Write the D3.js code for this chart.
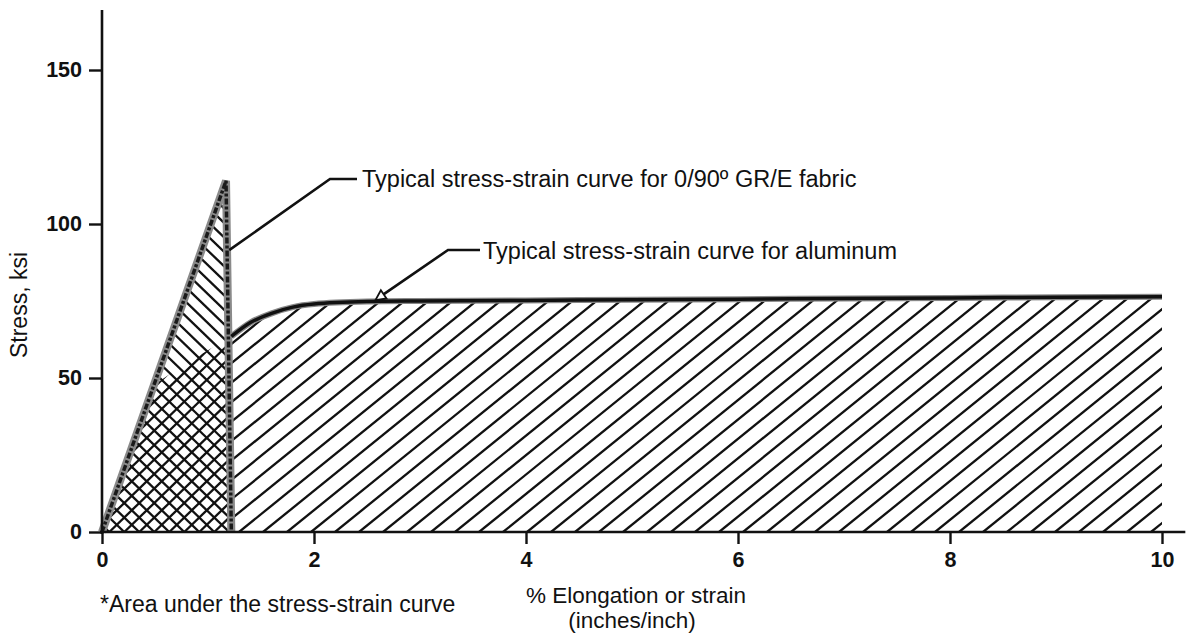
<!DOCTYPE html>
<html><head><meta charset="utf-8">
<script src="https://cdn.jsdelivr.net/npm/d3@7"></script>
<style>
body{margin:0;background:#fff}
svg{display:block}
text{font-family:"Liberation Sans",Arial,Helvetica,sans-serif;fill:#111}
</style>
</head><body>
<svg id="c" width="1188" height="637"></svg>
<script>
// ---- data ----
const yTicks = [0, 50, 100, 150];
const xTicks = [0, 2, 4, 6, 8, 10];
const fabricStrain = [0, 1.17, 1.22];
const fabricStress = [0, 114, 0];
const aluStrain = [0, 0.5, 0.8, 1.0, 1.22, 1.4, 1.6, 1.8, 2.0, 2.5, 3, 4, 5, 6, 7, 8, 9, 10];
const aluStress = [0, 48, 55, 59, 63.5, 68, 71, 73, 74, 74.8, 75, 75.2, 75.4, 75.6, 75.8, 76, 76.2, 76.4];
const fabricLabel = "Typical stress-strain curve for 0/90º GR/E fabric";
const aluLabel = "Typical stress-strain curve for aluminum";
const xTitle1 = "% Elongation or strain";
const xTitle2 = "(inches/inch)";
const yTitle = "Stress, ksi";
const footnote = "*Area under the stress-strain curve";

// ---- scales ----
const svg = d3.select("#c");
const x = d3.scaleLinear().domain([0, 10]).range([102, 1162]);
const y = d3.scaleLinear().domain([0, 150]).range([532, 70]);

const fabric = fabricStrain.map((s, i) => [s, fabricStress[i]]);
const alu = aluStrain.map((s, i) => [s, aluStress[i]]);
const dropX = fabricStrain[fabricStrain.length - 1];

const defs = svg.append("defs");
const lineGen = d3.line().x(d => x(d[0])).y(d => y(d[1]));
const areaGen = d3.area().x(d => x(d[0])).y0(y(0)).y1(d => y(d[1]));

defs.append("clipPath").attr("id", "clipFab").append("path")
  .attr("d", lineGen(fabric) + "Z");
defs.append("clipPath").attr("id", "clipAlu").append("path")
  .attr("d", areaGen(alu));
defs.append("clipPath").attr("id", "clipRight").append("rect")
  .attr("x", x(dropX)).attr("y", 0).attr("width", x(10) - x(dropX)).attr("height", y(0));

function hatch(g, dir, angleDeg, spacing, x0, x1, yTop, yBot) {
  const H = yBot - yTop;
  const dx = H / Math.tan(angleDeg * Math.PI / 180);
  const lines = [];
  for (let k = x0 - dx - spacing; k <= x1 + dx + spacing; k += spacing) {
    if (dir === "/") lines.push([k, yBot, k + dx, yTop]);
    else lines.push([k, yBot, k - dx, yTop]);
  }
  g.selectAll("line.h").data(lines).join("line").attr("class", "h")
    .attr("x1", d => d[0]).attr("y1", d => d[1]).attr("x2", d => d[2]).attr("y2", d => d[3])
    .attr("stroke", "#111").attr("stroke-width", 2.3);
}

// aluminum-only region: "/" hatch
const gA = svg.append("g").attr("clip-path", "url(#clipRight)")
  .append("g").attr("clip-path", "url(#clipAlu)");
hatch(gA, "/", 39, 24, x(dropX), x(10), y(80), y(0));

// fabric region: "\" hatch
const gF = svg.append("g").attr("clip-path", "url(#clipFab)");
hatch(gF, "\\", 44, 15, x(0), x(dropX), y(120), y(0));

// overlap region: extra "/" hatch (crosshatch)
const gO = svg.append("g").attr("clip-path", "url(#clipFab)")
  .append("g").attr("clip-path", "url(#clipAlu)");
hatch(gO, "/", 44, 15, x(0), x(dropX), y(120), y(0));

// fabric outline (speckled grey band + dark line)
svg.append("path").attr("d", lineGen(fabric))
  .attr("fill", "none").attr("stroke", "#8a8a8a").attr("stroke-width", 8).attr("stroke-linejoin", "miter");
svg.append("path").attr("d", lineGen(fabric))
  .attr("fill", "none").attr("stroke", "#1a1a1a").attr("stroke-width", 3.5)
  .attr("stroke-dasharray", "6 2 3 2").attr("stroke-linejoin", "miter");

// aluminum curve (visible part, right of fabric drop)
const aluVisible = alu.filter(d => d[0] >= dropX);
const aluLine = d3.line().curve(d3.curveMonotoneX).x(d => x(d[0])).y(d => y(d[1]));
svg.append("path").attr("d", aluLine(aluVisible))
  .attr("fill", "none").attr("stroke", "#888").attr("stroke-width", 6);
svg.append("path").attr("d", aluLine(aluVisible))
  .attr("fill", "none").attr("stroke", "#111").attr("stroke-width", 3.5);

// ---- axes ----
const ax = svg.append("g").attr("stroke", "#111").attr("stroke-width", 2.6).attr("fill", "none");
ax.append("line").attr("x1", x(0)).attr("x2", x(0)).attr("y1", y(169.5)).attr("y2", y(0) + 2);
ax.append("line").attr("x1", x(0) - 2).attr("x2", x(10.22)).attr("y1", y(0)).attr("y2", y(0));

const yAxis = d3.axisLeft(y).tickValues(yTicks).tickSize(13).tickPadding(7).tickFormat(d3.format("d"));
const gy = svg.append("g").attr("transform", `translate(${x(0)},0)`).call(yAxis);
gy.select(".domain").remove();
gy.selectAll(".tick line").attr("stroke", "#111").attr("stroke-width", 2.4);
gy.selectAll(".tick text").attr("font-size", 21.5).attr("font-weight", "bold")
  .attr("font-family", "Liberation Sans, Arial, sans-serif").attr("fill", "#111");

const xAxis = d3.axisBottom(x).tickValues(xTicks).tickSize(12).tickPadding(8).tickFormat(d3.format("d"));
const gx = svg.append("g").attr("transform", `translate(0,${y(0)})`).call(xAxis);
gx.select(".domain").remove();
gx.selectAll(".tick line").attr("stroke", "#111").attr("stroke-width", 2.4);
gx.selectAll(".tick text").attr("font-size", 21.5).attr("font-weight", "bold")
  .attr("font-family", "Liberation Sans, Arial, sans-serif").attr("fill", "#111");

// ---- annotations ----
const ann = svg.append("g").attr("stroke", "#111").attr("stroke-width", 2.6).attr("fill", "none");
// fabric leader
const fA = [x(1.2), y(91.5)];
ann.append("polyline").attr("points", [fA, [330, 179], [357, 179]].map(p => p.join(",")).join(" "));
svg.append("text").attr("x", 362).attr("y", 187).attr("font-size", 23.5).text(fabricLabel);

// aluminum leader with arrow
const aA = [x(2.58), y(75.3)];
const bend = [448, 250];
ann.append("polyline").attr("points", [[aA[0] + 4, aA[1] - 3], bend, [480, 250]].map(p => p.join(",")).join(" "));
const ang = Math.atan2(bend[1] - aA[1], bend[0] - aA[0]);
const ah = 10, aw = 5;
const p1 = [aA[0] + ah * Math.cos(ang) - aw * Math.sin(ang), aA[1] + ah * Math.sin(ang) + aw * Math.cos(ang)];
const p2 = [aA[0] + ah * Math.cos(ang) + aw * Math.sin(ang), aA[1] + ah * Math.sin(ang) - aw * Math.cos(ang)];
svg.append("polygon").attr("points", [aA, p1, p2].map(p => p.join(",")).join(" "))
  .attr("fill", "#fff").attr("stroke", "#111").attr("stroke-width", 1.8);
svg.append("text").attr("x", 483).attr("y", 258.5).attr("font-size", 23.5).text(aluLabel);

// titles
svg.append("text").attr("transform", "translate(27,305) rotate(-90)")
  .attr("text-anchor", "middle").attr("font-size", 23).text(yTitle);
svg.append("text").attr("x", 636).attr("y", 603).attr("text-anchor", "middle").attr("font-size", 22.5).text(xTitle1);
svg.append("text").attr("x", 632).attr("y", 628).attr("text-anchor", "middle").attr("font-size", 22.5).text(xTitle2);
svg.append("text").attr("x", 100).attr("y", 612).attr("font-size", 23).text(footnote);
</script>
</body></html>
